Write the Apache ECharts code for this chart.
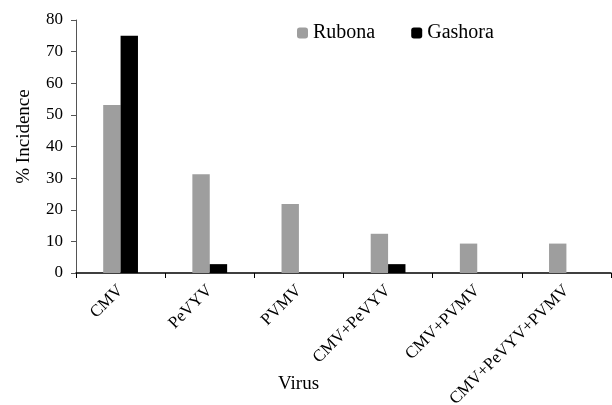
<!DOCTYPE html>
<html><head><meta charset="utf-8">
<script src="https://cdn.jsdelivr.net/npm/echarts@6/dist/echarts.min.js"></script>
<style>html,body{margin:0;padding:0;background:#fff}#c{width:612px;height:405px}</style>
</head><body><div id="c"></div>
<script>
const categories = ["CMV", "PeVYV", "PVMV", "CMV+PeVYV", "CMV+PVMV", "CMV+PeVYV+PVMV"];
const rubona = [53.1, 31.2, 21.8, 12.4, 9.3, 9.3];
const gashora = [75, 2.8, 0, 2.8, 0, 0];
const yTicks = [0, 10, 20, 30, 40, 50, 60, 70, 80];

const font = "Liberation Serif";
const chart = echarts.init(document.getElementById('c'), null, {renderer: 'canvas'});
chart.setOption({
  animation: false,
  textStyle: {fontFamily: font, color: '#000'},
  legend: {
    top: 18, left: 292, itemGap: 36, itemWidth: 11, itemHeight: 11,
    textStyle: {fontFamily: font, fontSize: 20, color: '#000'},
    data: ['Rubona', 'Gashora']
  },
  grid: {left: 76, right: 1, top: 20, bottom: 132, containLabel: false, outerBoundsMode: 'none'},
  xAxis: {
    type: 'category', data: categories,
    name: 'Virus', nameLocation: 'middle', nameGap: 102, nameMoveOverlap: false,
    nameTextStyle: {fontFamily: font, fontSize: 19, color: '#000', padding: [0, 90, 0, 0]},
    axisLine: {lineStyle: {color: '#000', width: 1.5}},
    axisTick: {show: true, alignWithLabel: false, length: 5, lineStyle: {color: '#000'}},
    axisLabel: {rotate: 45, fontFamily: font, fontSize: 17, color: '#000', margin: 15, interval: 0}
  },
  yAxis: {
    type: 'value', min: yTicks[0], max: yTicks[yTicks.length - 1], interval: 10,
    name: '% Incidence', nameLocation: 'middle', nameGap: 42,
    nameTextStyle: {fontFamily: font, fontSize: 19, color: '#000', padding: [0, 0, 0, 20]},
    axisLine: {show: true, lineStyle: {color: '#555', width: 1}},
    axisTick: {show: true, length: 5, lineStyle: {color: '#555'}},
    splitLine: {show: false},
    axisLabel: {fontFamily: font, fontSize: 17, color: '#000', margin: 13}
  },
  series: [
    {name: 'Rubona', type: 'bar', data: rubona, barGap: '0%', barCategoryGap: '61%',
     itemStyle: {color: '#9e9e9e'}},
    {name: 'Gashora', type: 'bar', data: gashora, itemStyle: {color: '#000'}}
  ]
});
</script></body></html>
